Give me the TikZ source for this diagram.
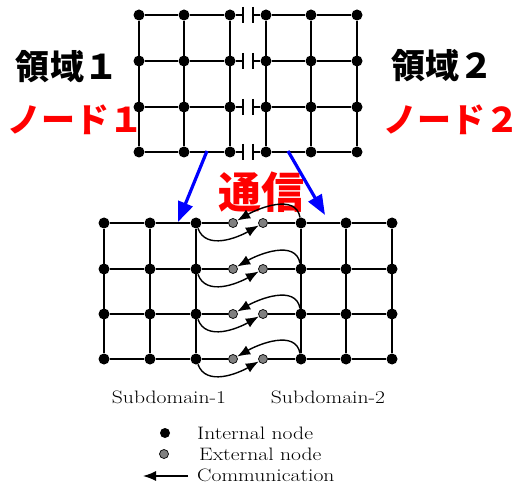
\documentclass[tikz,border=0pt]{standalone}
\usepackage{fontspec}
\usepackage{graphicx}
\newfontfamily\jp{Noto Sans CJK JP}
\usetikzlibrary{arrows.meta}
\newcommand\lmwide[1]{\scalebox{1.2}[1]{#1}}
\begin{document}
\begin{tikzpicture}[x=1pt,y=1pt,
 inner/.style={circle,fill=black,inner sep=0pt,minimum size=11pt},
 outer/.style={circle,fill=gray,draw=black,line width=0.7pt,inner sep=0pt,minimum size=9pt},
 grid/.style={line width=2.2pt},
 comm/.style={line width=1.4pt,-{Latex[length=13pt,width=10pt]}},
 bluearrow/.style={blue,line width=3.2pt,-{Triangle[length=20pt,width=15pt]}},
 jplabel/.style={font=\jp\bfseries\fontsize{34}{34}\selectfont,inner sep=0pt},
 lbl/.style={font=\fontsize{18}{18}\selectfont,inner sep=0pt}
]
\useasboundingbox (0,0) rectangle (524,-486);
% ---------- top grid ----------
\foreach \r/\y in {1/-15,2/-61,3/-107,4/-152}{
  \foreach \c/\x in {1/139,2/184,3/230,4/266,5/311,6/357}{
    \node[inner] (t\c\r) at (\x,\y) {};
  }
  \coordinate (pl\r) at (243,\y);
  \coordinate (pr\r) at (253,\y);
}
\foreach \r in {1,2,3,4}{
  \draw[grid] (t1\r) -- (t2\r) -- (t3\r) -- (pl\r);
  \draw[grid] (pr\r) -- (t4\r) -- (t5\r) -- (t6\r);
  \draw[grid] (pl\r) ++(0,8) -- ++(0,-16);
  \draw[grid] (pr\r) ++(0,8) -- ++(0,-16);
}
\foreach \c in {1,...,6}{
  \draw[grid] (t\c1) -- (t\c4);
}
% ---------- labels ----------
\node[jplabel] (d1) at (67,-67) {領域１};
\node[jplabel,red] (n1) at (75,-120) {ノード１};
\node[jplabel] (d2) at (442,-66) {領域２};
\node[jplabel,red] (n2) at (451,-120) {ノード２};
\node[font=\jp\bfseries\fontsize{43}{43}\selectfont,red,inner sep=0pt] (tsu) at (261,-192) {通信};
% ---------- bottom grid ----------
\foreach \r/\y in {1/-223,2/-269,3/-314,4/-359}{
  \foreach \c/\x in {1/104,2/150,3/196,4/301,5/346,6/392}{
    \node[inner] (b\c\r) at (\x,\y) {};
  }
  \node[outer] (gl\r) at (233,\y) {};
  \node[outer] (gr\r) at (263,\y) {};
}
\foreach \r in {1,2,3,4}{
  \draw[grid] (b1\r) -- (b2\r) -- (b3\r) -- (gl\r);
  \draw[grid] (gr\r) -- (b4\r) -- (b5\r) -- (b6\r);
  \draw[comm] (b3\r) to[out=-70,in=210] (gr\r);
  \draw[comm] (b4\r) to[out=100,in=30] (gl\r);
}
\foreach \c in {1,...,6}{
  \draw[grid] (b\c1) -- (b\c4);
}
% ---------- blue arrows ----------
\coordinate (ba1s) at (207,-151);
\coordinate (ba1e) at (178,-222);
\coordinate (ba2s) at (288,-151);
\coordinate (ba2e) at (325,-215);
\draw[bluearrow] (ba1s) -- (ba1e);
\draw[bluearrow] (ba2s) -- (ba2e);
% ---------- subdomain labels ----------
\node[lbl] (s1) at (169,-397) {\lmwide{Subdomain-1}};
\node[lbl] (s2) at (328,-397) {\lmwide{Subdomain-2}};
% ---------- legend ----------
\node[inner,minimum size=10pt] (li) at (165,-433) {};
\node[lbl,anchor=west] (lit) at (197,-433) {\lmwide{Internal node}};
\node[outer] (le) at (164,-454) {};
\node[lbl,anchor=west] (let) at (199,-454) {\lmwide{External node}};
\coordinate (ca) at (188,-476);
\coordinate (cb) at (143,-476);
\draw[comm] (ca) -- (cb);
\node[lbl,anchor=west] (lct) at (197,-475) {\lmwide{Communication}};
\end{tikzpicture}
\end{document}
